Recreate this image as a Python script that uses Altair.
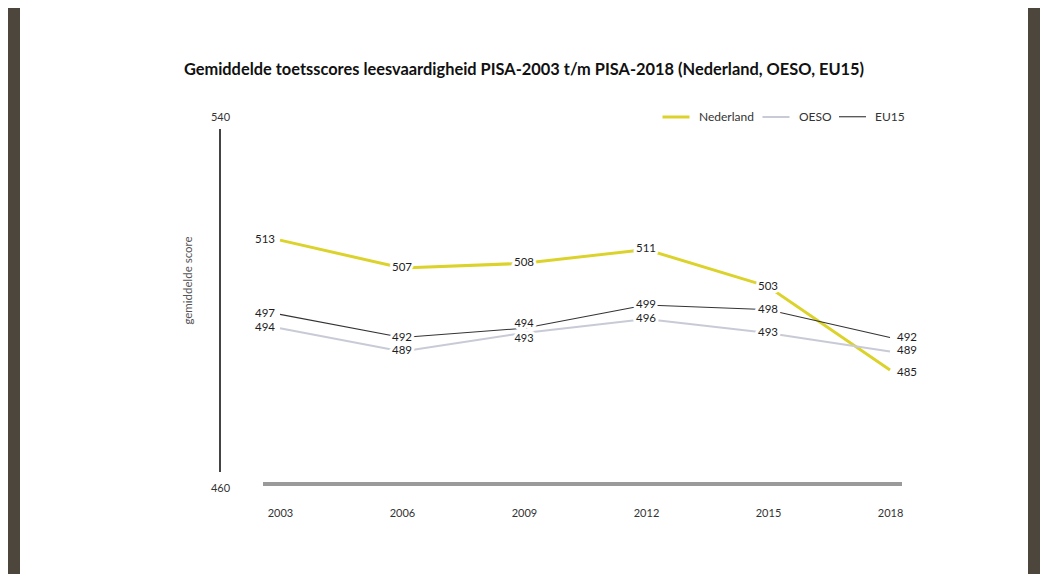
import altair as alt
import pandas as pd

years = [2003, 2006, 2009, 2012, 2015, 2018]
nederland = [513, 507, 508, 511, 503, 485]
oeso = [494, 489, 493, 496, 493, 489]
eu15 = [497, 492, 494, 499, 498, 492]
series_names = ["Nederland", "OESO", "EU15"]
series_colors = ["#dbd32b", "#c8cad6", "#333333"]
series_widths = [3, 1.1, 1.4]

rows = []
for name, vals in zip(series_names, [nederland, oeso, eu15]):
    for y, v in zip(years, vals):
        rows.append({"jaar": y, "score": v, "reeks": name})
df = pd.DataFrame(rows)

FONT = "Lato"
W, H = 1008, 566

xscale = alt.Scale(domain=[1996.607, 2021.393], nice=False, zero=False)
yscale = alt.Scale(domain=[441.0, 563.07], nice=False, zero=False)

base = alt.Chart(df)

legend_kw = dict(title=None, orient="none", legendX=641, legendY=94,
                 direction="horizontal", symbolType="stroke",
                 symbolSize=729, labelOffset=8, columnPadding=4,
                 labelFontSize=12, labelColor="#333333", labelFont=FONT)

lines = base.mark_line().encode(
    x=alt.X("jaar:Q", scale=xscale,
            axis=alt.Axis(values=years, format="d", domain=False, ticks=False, grid=False,
                          tickSize=0, labelPadding=21, offset=-88, title=None,
                          labelFontSize=11, labelColor="#333333", labelFont=FONT)),
    y=alt.Y("score:Q", scale=yscale,
            axis=alt.Axis(values=[460, 540], domain=False, ticks=False, grid=False, tickSize=0,
                          labelPadding=0, labelAlign="center", labelBaseline="middle",
                          labelOffset=3,
                          offset=-200, labelFontSize=11, labelColor="#333333", labelFont=FONT,
                          title="gemiddelde score", titleX=-32, titleY=272, titleAngle=270,
                          titleFontSize=11.5, titleFontWeight="normal", titleColor="#555555",
                          titleFont=FONT, titleAlign="center", titleBaseline="middle")),
    color=alt.Color("reeks:N", scale=alt.Scale(domain=series_names, range=series_colors),
                    legend=alt.Legend(**legend_kw)),
    strokeWidth=alt.StrokeWidth("reeks:N", scale=alt.Scale(domain=series_names, range=series_widths),
                                legend=alt.Legend(**legend_kw)),
    order="jaar:Q",
)

yaxis_line = alt.Chart(df).mark_rule(color="#444444", strokeWidth=1.3).encode(
    x=alt.value(200), y=alt.datum(463, scale=yscale), y2=alt.datum(537)
)
baseline = alt.Chart(df).mark_rule(color="#9a9a9a", strokeWidth=3).encode(
    x=alt.value(243), x2=alt.value(882), y=alt.datum(460.4, scale=yscale)
)

def labels(filt, align, dx, dy=0, size=11.5):
    layers = []
    for halo in (True, False):
        kw = dict(align=align, baseline="middle", dx=dx, dy=dy, fontSize=size, font=FONT,
                  color="#1e1e1e")
        if halo:
            kw.update(stroke="white", strokeWidth=6, strokeJoin="round")
        layers.append(base.transform_filter(filt).mark_text(**kw).encode(
            x=alt.X("jaar:Q", scale=xscale),
            y=alt.Y("score:Q", scale=yscale),
            text="score:Q"))
    return layers

lab = []
lab += labels("datum.jaar == 2003", "right", -5)
lab += labels("datum.jaar > 2003 && datum.jaar < 2018 && datum.jaar != 2009", "center", 0)
lab += labels("datum.jaar == 2009 && datum.reeks == 'Nederland'", "center", 0)
lab += labels("datum.jaar == 2009 && datum.reeks == 'EU15'", "center", 0, -4, 11)
lab += labels("datum.jaar == 2009 && datum.reeks == 'OESO'", "center", 0, 6, 11)
lab += labels("datum.jaar == 2018 && datum.reeks != 'Nederland'", "left", 7)
lab += labels("datum.jaar == 2018 && datum.reeks == 'Nederland'", "left", 7, 3)

chart = alt.layer(baseline, yaxis_line, lines, *lab).properties(
    width=W, height=H,
    background="#4d463c",
    padding={"left": 12, "top": 0, "right": 12, "bottom": 0},
    title=alt.TitleParams(
        "Gemiddelde toetsscores leesvaardigheid PISA-2003 t/m PISA-2018 (Nederland, OESO, EU15)",
        font=FONT, fontSize=16.4, fontWeight="bold", color="#111111", anchor="middle",
        orient="top", frame="group", offset=-78, baseline="middle"),
).configure_view(fill="white", stroke=None)

chart.save("out.html", embed_options={"renderer": "svg", "actions": False})
